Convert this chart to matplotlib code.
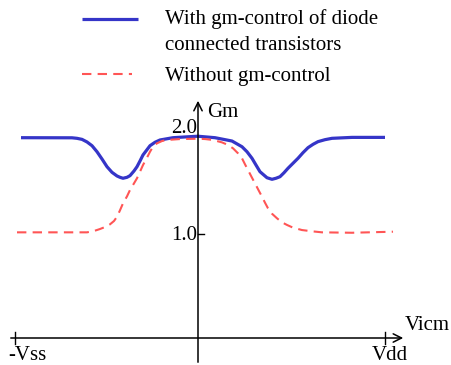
import matplotlib.pyplot as plt

# x in pixel-like units from the Gm axis, y in Gm units
x_blue = [-177, -126, -121, -116, -111, -106, -101, -96, -91, -86, -81, -78, -75, -71, -68, -64, -61, -58, -55, -52, -48, -43, -38, -25, -8, 0,
          17, 34, 44, 49, 54, 58, 62, 65, 69, 74, 78, 82, 86, 90, 95, 100, 105, 110, 115, 120, 127, 134, 154, 187]
y_blue = [1.926, 1.925, 1.920, 1.910, 1.885, 1.849, 1.791, 1.721, 1.647, 1.593, 1.558, 1.545, 1.536, 1.545, 1.561, 1.606, 1.647, 1.702, 1.760, 1.798, 1.849, 1.882, 1.904, 1.926, 1.936, 1.940,
          1.926, 1.894, 1.839, 1.791, 1.728, 1.663, 1.599, 1.574, 1.541, 1.526, 1.536, 1.551, 1.589, 1.632, 1.680, 1.728, 1.782, 1.830, 1.862, 1.888, 1.907, 1.920, 1.929, 1.929]

x_red = [-181, -111, -104, -98, -93, -88, -84, -81, -78, -75, -71, -68, -64, -61, -58, -55, -51, -48, -45, -41, -36, -31, -18, 0,
         7, 15, 24, 30, 35, 40, 44, 47, 50, 54, 57, 61, 64, 67, 70, 74, 79, 84, 89, 95, 104, 114, 124, 154, 195]
y_red = [1.016, 1.016, 1.029, 1.048, 1.067, 1.093, 1.125, 1.166, 1.228, 1.295, 1.362, 1.423, 1.487, 1.536, 1.599, 1.663, 1.734, 1.791, 1.839, 1.872, 1.894, 1.904, 1.913, 1.916,
         1.913, 1.904, 1.881, 1.856, 1.824, 1.776, 1.728, 1.670, 1.615, 1.541, 1.487, 1.413, 1.359, 1.301, 1.247, 1.195, 1.151, 1.112, 1.087, 1.061, 1.038, 1.026, 1.016, 1.012, 1.022]

y_ticks = [1.0]
y_tick_labels = ['1.0', '2.0']
y_label_pos = [0.99, 2.01]
x_ends = [-183, 187]
x_end_labels = ['-Vss', 'Vdd']

plt.rcParams['font.family'] = 'Liberation Serif'
fs = 15

fig = plt.figure(figsize=(4.51, 3.65), dpi=100)
ax = fig.add_axes([0, 0, 1, 1])
ax.set_xlim(-198, 253)
ax.set_ylim(-27 / 104, 338 / 104)
ax.axis('off')

# curves
ax.plot(x_blue, y_blue, color='#3535c8', lw=2.3, solid_capstyle='butt', solid_joinstyle='round')
ax.plot(x_red, y_red, color='#ff5555', lw=1.5, dashes=(4.5, 3))

# axes with arrows
ax.annotate('', xy=(208, 0), xytext=(-190, 0),
            arrowprops=dict(arrowstyle='->', lw=1.1, color='black', mutation_scale=15))
ax.annotate('', xy=(0, 240 / 104), xytext=(0, -27 / 104),
            arrowprops=dict(arrowstyle='->', lw=1.1, color='black', mutation_scale=15))

for xv in x_ends:
    ax.plot([xv, xv], [-6 / 104, 6 / 104], color='black', lw=1)
ax.text(-190, -0.08, x_end_labels[0], ha='left', va='top', fontsize=fs)
ax.text(192, -0.08, x_end_labels[1], ha='center', va='top', fontsize=fs)

for yv in y_ticks:
    ax.plot([0, 6], [yv, yv], color='black', lw=1)
for yv, lab in zip(y_label_pos, y_tick_labels):
    ax.text(-1, yv, lab, ha='right', va='center', fontsize=fs)

ax.text(9, 226 / 104, 'Gm', ha='left', va='center', fontsize=fs)
ax.text(207, 13 / 104, 'Vicm', ha='left', va='center', fontsize=fs)

# legend
ax.plot([-116, -60], [319 / 104, 319 / 104], color='#3535c8', lw=2.3, solid_capstyle='butt')
ax.plot([-116, -66], [264 / 104, 264 / 104], color='#ff5555', lw=1.5, dashes=(4.5, 3))
ax.text(-33, 319 / 104, 'With gm-control of diode', ha='left', va='center', fontsize=fs)
ax.text(-33, 293 / 104, 'connected transistors', ha='left', va='center', fontsize=fs)
ax.text(-33, 262 / 104, 'Without gm-control', ha='left', va='center', fontsize=fs)

fig.savefig('out.png', dpi=100)
